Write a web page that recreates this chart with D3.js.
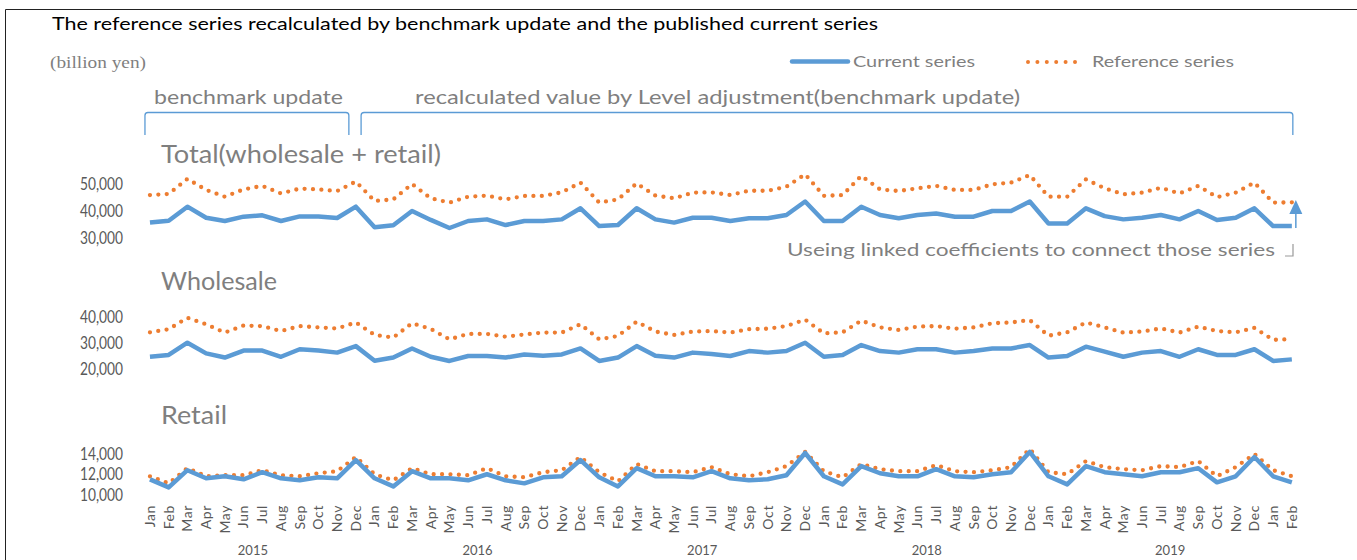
<!DOCTYPE html>
<html><head><meta charset="utf-8">
<script src="https://cdn.jsdelivr.net/npm/d3@7"></script>
<style>
body{margin:0;background:#fff;}
svg{display:block;font-family:Lato,'Noto Sans',sans-serif;}
</style>
</head><body>
<svg id="c" width="1357" height="560"></svg>
<script>
// ---------- data ----------
const monthLabels = [
  "Jan","Feb","Mar","Apr","May","Jun","Jul","Aug","Sep","Oct","Nov","Dec",
  "Jan","Feb","Mar","Apr","May","Jun","Jul","Aug","Sep","Oct","Nov","Dec",
  "Jan","Feb","Mar","Apr","May","Jun","Jul","Aug","Sep","Oct","Nov","Dec",
  "Jan","Feb","Mar","Apr","May","Jun","Jul","Aug","Sep","Oct","Nov","Dec",
  "Jan","Feb","Mar","Apr","May","Jun","Jul","Aug","Sep","Oct","Nov","Dec",
  "Jan","Feb"];
const yearLabels = ["2015","2016","2017","2018","2019"];
const yearSpans  = [12,12,12,12,14];

const totalCur = [35700,36400,41600,37500,36300,37900,38400,36300,38000,38000,37400,41600,
  34000,34700,40000,36700,33700,36300,36900,34800,36300,36300,36900,41000,
  34400,34800,41000,36900,35700,37500,37500,36300,37300,37300,38500,43500,
  36300,36300,41600,38500,37300,38500,39100,37900,37900,40000,40000,43500,
  35400,35400,41000,38100,36900,37500,38500,36900,40000,36700,37500,41000,
  34400,34400];
const totalRef = [45900,46300,51900,47800,45300,48000,49300,46500,48300,48000,47400,50900,
  43700,44300,50000,44700,43100,45300,45700,44300,45600,45600,46900,50500,
  43100,44300,50200,45700,44700,46800,46900,45900,47500,47500,49000,53600,
  45600,45900,53000,48000,47400,48400,49300,47800,47800,49900,50500,53300,
  45300,45300,51700,48400,46200,46800,48600,46500,49300,45100,46800,50500,
  43100,43200];
const wholeCur = [24700,25400,30100,26000,24400,27100,27100,24700,27600,27100,26300,28800,
  23200,24400,27900,24700,23100,25000,25000,24400,25600,25100,25600,27900,
  23100,24400,28800,25100,24400,26300,25800,25000,26900,26300,26900,30100,
  24700,25400,29200,26900,26300,27600,27600,26300,26900,27900,27900,29200,
  24400,25000,28600,26700,24700,26300,26900,24700,27600,25400,25400,27600,
  23100,23700];
const wholeRef = [34100,35300,39700,37200,34000,36700,36500,34600,36500,36000,35600,37900,
  33100,32100,37600,35400,31400,33500,33500,32400,33300,34000,34000,37200,
  31400,32700,38200,34400,33100,34400,34600,34000,35300,35500,36500,39000,
  33700,34100,38600,36000,35000,36300,36500,35500,36000,37600,37900,38800,
  32800,34100,37900,36000,34000,34400,35600,34000,36300,34600,34100,35800,
  31200,31500];
const retailCur = [11500,10700,12400,11600,11800,11500,12200,11600,11400,11700,11600,13400,
  11600,10800,12300,11600,11600,11400,12000,11400,11100,11700,11800,13400,
  11700,10800,12600,11800,11800,11700,12300,11600,11400,11500,11900,14100,
  11800,11000,12800,12100,11800,11800,12500,11800,11700,12000,12200,14200,
  11800,11000,12800,12200,12000,11800,12200,12200,12600,11200,11800,13700,
  11800,11200];
const retailRef = [11800,11100,12600,11800,11900,11900,12400,11900,11800,12100,12300,13700,
  12000,11400,12600,12000,12000,11900,12600,11800,11700,12200,12400,13700,
  12200,11300,13000,12300,12300,12200,12700,12000,11800,12200,12800,14200,
  12300,11700,13000,12500,12300,12300,12900,12300,12200,12400,12700,14500,
  12200,12000,13300,12700,12500,12400,12800,12700,13300,11800,12700,14000,
  12400,11800];

const totalTicks  = [30000,40000,50000];
const wholeTicks  = [20000,30000,40000];
const retailTicks = [10000,12000,14000];

const titleText = "The reference series recalculated by benchmark update and the published current series";
const unitText = "(billion yen)";
const seriesNames = ["Current series","Reference series"];
const panelTitles = ["Total(wholesale + retail)","Wholesale","Retail"];
const bracketTexts = ["benchmark update","recalculated value by Level adjustment(benchmark update)"];
const noteText = "Useing linked coefficients to connect those series";

// ---------- drawing ----------
const BLUE = "#5B9BD5", ORANGE = "#ED7D31", GRAY = "#7f7f7f", DARK = "#595959";
const svg = d3.select("#c");

// frame
svg.append("path").attr("d","M5.5,560 V9.5 H1357").attr("fill","none").attr("stroke","#222").attr("stroke-width",1);

svg.append("text").attr("x",52).attr("y",30).attr("font-size",18).attr("fill","#000")
  .attr("textLength",826).attr("lengthAdjust","spacingAndGlyphs").text(titleText);
svg.append("text").attr("x",50).attr("y",68).attr("font-size",16).attr("fill",GRAY)
  .attr("font-family","'Liberation Serif',serif")
  .attr("textLength",96).attr("lengthAdjust","spacingAndGlyphs").text(unitText);

// legend
svg.append("line").attr("x1",792).attr("x2",848).attr("y1",61.5).attr("y2",61.5)
  .attr("stroke",BLUE).attr("stroke-width",4.5).attr("stroke-linecap","round");
svg.append("text").attr("x",853).attr("y",67).attr("font-size",16).attr("fill",GRAY)
  .attr("textLength",122).attr("lengthAdjust","spacingAndGlyphs").text(seriesNames[0]);
svg.append("line").attr("x1",1028).attr("x2",1075).attr("y1",62).attr("y2",62)
  .attr("stroke",ORANGE).attr("stroke-width",4).attr("stroke-linecap","round").attr("stroke-dasharray","0 9.4");
svg.append("text").attr("x",1092).attr("y",67).attr("font-size",16).attr("fill",GRAY)
  .attr("textLength",142).attr("lengthAdjust","spacingAndGlyphs").text(seriesNames[1]);

// x scale
const x = d3.scaleBand().domain(d3.range(monthLabels.length)).range([140.6,1301.2]).padding(0);
const cx = i => x(i) + x.bandwidth()/2;

// brackets
function bracket(i0, i1, yTop, yBot, dx0, dx1){
  const x0 = cx(i0)+dx0, x1 = cx(i1)+dx1, r=3;
  svg.append("path").attr("fill","none").attr("stroke",BLUE).attr("stroke-width",1.3)
    .attr("d",`M${x0},${yBot} V${yTop+r} Q${x0},${yTop} ${x0+r},${yTop} H${x1-r} Q${x1},${yTop} ${x1},${yTop+r} V${yBot}`);
}
bracket(0, 11, 112.5, 135, -5, -7);
bracket(12, 61, 112.5, 135, -13.5, 1);
svg.append("text").attr("x",154).attr("y",104).attr("font-size",19).attr("fill",GRAY)
  .attr("textLength",189).attr("lengthAdjust","spacingAndGlyphs").text(bracketTexts[0]);
svg.append("text").attr("x",415).attr("y",104).attr("font-size",19).attr("fill",GRAY)
  .attr("textLength",605).attr("lengthAdjust","spacingAndGlyphs").text(bracketTexts[1]);

// panels
const panels = [
  {title:panelTitles[0], cur:totalCur, ref:totalRef, ticks:totalTicks, dom:[30000,50000], rng:[238,184], ty:163, tw:280},
  {title:panelTitles[1], cur:wholeCur, ref:wholeRef, ticks:wholeTicks, dom:[20000,40000], rng:[369,317], ty:290, tw:116},
  {title:panelTitles[2], cur:retailCur, ref:retailRef, ticks:retailTicks, dom:[10000,14000], rng:[494.5,454], ty:424, tw:66}
];
const fmt = d3.format(",");
panels.forEach(p=>{
  const y = d3.scaleLinear().domain(p.dom).range(p.rng);
  svg.append("text").attr("x",161).attr("y",p.ty).attr("font-size",25).attr("fill",GRAY)
    .attr("textLength",p.tw).attr("lengthAdjust","spacingAndGlyphs").text(p.title);
  const ax = d3.axisLeft(y).tickValues(p.ticks).tickFormat(fmt).tickSize(0).tickPadding(0);
  const g = svg.append("g").attr("transform","translate(123,0)").call(ax);
  g.select(".domain").remove();
  g.selectAll("text").attr("font-size",17.5).attr("fill",DARK).attr("font-family","Lato,sans-serif")
    .attr("textLength",43).attr("lengthAdjust","spacingAndGlyphs");
  const line = d3.line().x((d,i)=>cx(i)).y(d=>y(d));
  svg.append("path").datum(p.ref).attr("d",line).attr("fill","none").attr("stroke",ORANGE)
    .attr("stroke-width",4.3).attr("stroke-linecap","round").attr("stroke-dasharray","0 8.4");
  svg.append("path").datum(p.cur).attr("d",line).attr("fill","none").attr("stroke",BLUE)
    .attr("stroke-width",4.5).attr("stroke-linejoin","round");
});

// annotation
svg.append("text").attr("x",787).attr("y",256).attr("font-size",17.5).attr("fill",GRAY)
  .attr("textLength",488).attr("lengthAdjust","spacingAndGlyphs").text(noteText);
svg.append("path").attr("d","M1285,256 H1293 V244").attr("fill","none").attr("stroke","#999").attr("stroke-width",1.2);
const ax0 = cx(61)+4;
svg.append("line").attr("x1",ax0).attr("x2",ax0).attr("y1",228).attr("y2",212)
  .attr("stroke",BLUE).attr("stroke-width",1.5);
svg.append("path").attr("d",`M${ax0-6.5},${214} L${ax0},${200} L${ax0+6.5},${214} Z`).attr("fill",BLUE);

// x axis labels
svg.append("g").selectAll("text").data(monthLabels).join("text")
  .attr("transform",(d,i)=>`translate(${cx(i)},505) rotate(-90)`)
  .attr("text-anchor","end").attr("dy","0.35em").attr("font-size",14).attr("fill",DARK)
  .attr("letter-spacing",0.6).text(d=>d);
let start = 0;
yearLabels.forEach((yl,k)=>{
  const s = start, e = start + yearSpans[k] - 1;
  svg.append("text").attr("x",(cx(s)+cx(e))/2).attr("y",555).attr("text-anchor","middle")
    .attr("font-size",13).attr("fill",DARK).text(yl);
  start += yearSpans[k];
});
</script>
</body></html>
